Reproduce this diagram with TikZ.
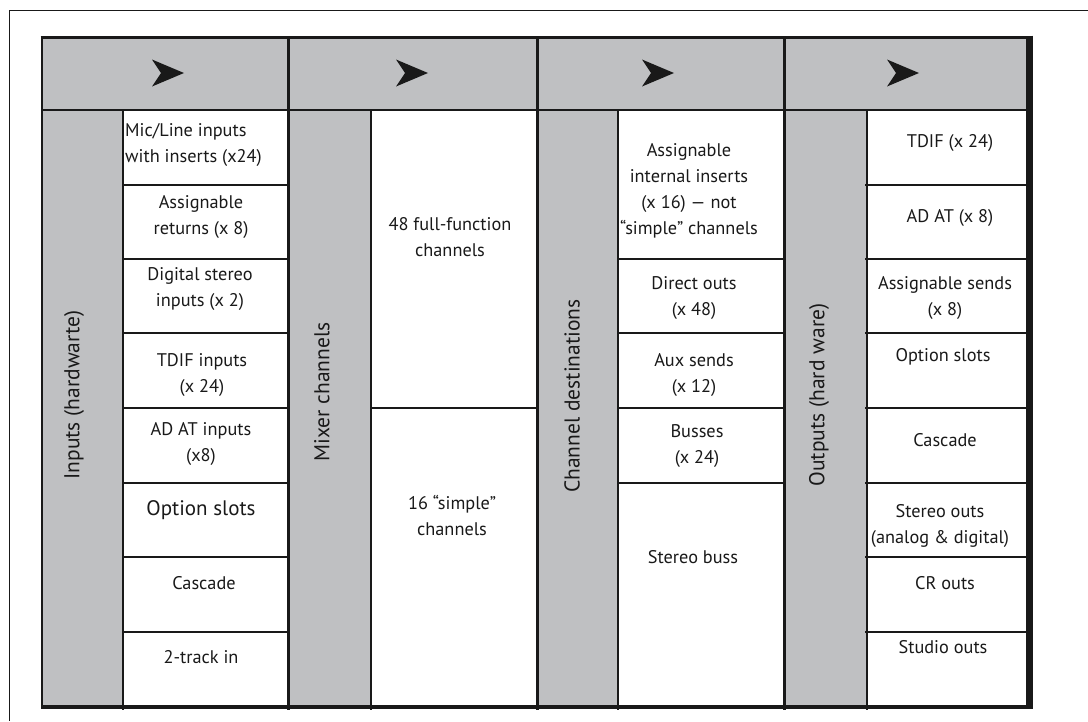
\documentclass[tikz,border=0pt]{standalone}
\usepackage{fontspec}
\setmainfont{PT Sans}
\definecolor{panelgray}{RGB}{191,192,194}
\definecolor{ink}{RGB}{25,25,25}

\begin{document}
\begin{tikzpicture}[x=1pt,y=-1pt,
		cell/.style={align=center,inner sep=0pt,text=ink,font=\fontsize{18.3}{26}\selectfont},
		side/.style={inner sep=0pt,text=ink,rotate=90,font=\fontsize{21.5}{24}\selectfont},
		rule/.style={line width=1.3pt,ink},
		heavy/.style={line width=3pt,ink}]
		\useasboundingbox (0,0) rectangle (1088,721);
		% page frame
		\draw[line width=1pt,ink] (1088,10) -- (9,10) -- (9,721);
		% grey header and side columns
		\fill[panelgray] (42,37) rectangle (1030,110);
		\fill[panelgray] (42,110) rectangle (123,707);
		\fill[panelgray] (288,110) rectangle (371,707);
		\fill[panelgray] (537,110) rectangle (618,707);
		\fill[panelgray] (784,110) rectangle (867,707);
		% arrows in the header
		\foreach \ax in {168,412,658,903}
			\fill[ink] (\ax+16,73) -- (\ax-16,59.5) -- (\ax-7,73) -- (\ax-16,86.5) -- cycle;
		% row lines
		\foreach \ry in {185,259,333,408,483,557,632}
			\draw[rule] (123,\ry) -- (288,\ry);
		\draw[rule] (371,408) -- (537,408);
		\foreach \ry in {259,333,408,483}
			\draw[rule] (618,\ry) -- (784,\ry);
		\foreach \ry in {185,259,333,408,483,557,632}
			\draw[rule] (865,\ry) -- (1030,\ry);
		% column lines
		\foreach \cx in {123,371,618,867}
			\draw[rule] (\cx,110) -- (\cx,710);
		\draw[line width=2pt,ink] (42,110) -- (1030,110);
		\foreach \cx in {288,537,784}
			\draw[heavy] (\cx,37) -- (\cx,710);
		% outer border
		\draw[line width=2pt,ink] (42,37) -- (42,707);
		\draw[heavy] (40.5,37) -- (1030,37);
		\draw[line width=4pt,ink] (41,707) -- (1033,707);
		\draw[line width=7pt,ink] (1029.5,35.5) -- (1029.5,709);

		% side labels
		\node[side] (inlabel) at (74,395) {Inputs (hardwarte)};
		\node[side] (mixlabel) at (322,392) {Mixer channels};
		\node[side] (destlabel) at (572,396) {Channel destinations};
		\node[side] (outlabel) at (819,395) {Outputs (hard ware)};

		% inputs
		\node[cell,align=left,anchor=west] (in1) at (125,145) {Mic/Line inputs\\with inserts (x24)};
		\node[cell] (in2) at (201,217.5) {Assignable\\returns (x 8)};
		\node[cell] (in3) at (200,289.5) {Digital stereo\\inputs (x 2)};
		\node[cell] (in4) at (202,375) {TDIF inputs\\(x 24)};
		\node[cell] (in5) at (201,443.5) {AD AT inputs\\(x8)};
		\node[cell,font=\fontsize{21}{26}\selectfont] (in6) at (201,510) {Option slots};
		\node[cell] (in7) at (204,583) {Cascade};
		\node[cell] (in8) at (201,657) {2-track in};

		% mixer channels
		\node[cell] (mix1) at (450,237.5) {48 full-function\\channels};
		\node[cell] (mix2) at (452,515.5) {16 “simple”\\channels};

		% channel destinations
		\node[cell] (dest1) at (689,191) {Assignable\\internal inserts\\(x 16) — not\\“simple” channels};
		\node[cell] (dest2) at (694,298.5) {Direct outs\\(x 48)};
		\node[cell] (dest3) at (694,375.5) {Aux sends\\(x 12)};
		\node[cell] (dest4) at (697,446.5) {Busses\\(x 24)};
		\node[cell] (dest5) at (693,557) {Stereo buss};

		% outputs
		\node[cell] (out1) at (950,143) {TDIF (x 24)};
		\node[cell] (out2) at (950,218) {AD AT (x 8)};
		\node[cell] (out3) at (945,298.5) {Assignable sends\\(x 8)};
		\node[cell] (out4) at (943,357) {Option slots};
		\node[cell] (out5) at (945,440) {Cascade};
		\node[cell] (out6) at (940,526) {Stereo outs\\(analog \& digital)};
		\node[cell] (out7) at (945,583) {CR outs};
		\node[cell] (out8) at (943,647) {Studio outs};
	\end{tikzpicture}
\end{document}
